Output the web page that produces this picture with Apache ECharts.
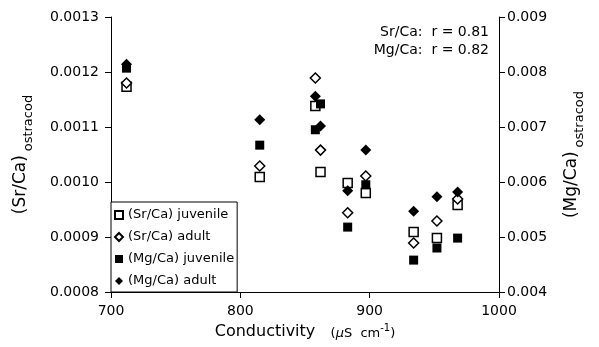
<!DOCTYPE html>
<html lang="en">

<head>
    <meta charset="UTF-8">
    <title>Ostracod Sr/Ca Mg/Ca</title>
    <script src="https://cdn.jsdelivr.net/npm/echarts@6/dist/echarts.min.js"></script>
    <style>
        body { margin: 0; background: #fff; }
        #main { width: 599px; height: 347px; }
    </style>
</head>

<body>
    <div id="main"></div>

    <script>
        // conductivity (uS/cm) for each sample site
        const conductivity = [712, 815, 858, 862, 883, 897, 934, 952, 968];
        const srJuvenile = [0.001173, 0.001009, 0.001138, 0.001018, 0.000998, 0.000980, 0.000909, 0.000898, 0.000958];
        const srAdult = [0.001180, 0.001029, 0.001189, 0.001058, 0.000944, 0.001011, 0.000889, 0.000929, 0.000969];
        const mgJuvenile = [0.00807, 0.00667, 0.00695, 0.00742, 0.00518, 0.00595, 0.00458, 0.00480, 0.00498];
        const mgAdult = [0.00814, 0.00713, 0.00756, 0.00702, 0.00584, 0.00658, 0.00547, 0.00573, 0.00582];

        const xTicks = [700, 800, 900, 1000];
        const corrText = ['Sr/Ca:  r = 0.81', 'Mg/Ca:  r = 0.82'];

        const font = 'DejaVu Sans';
        const chart = echarts.init(document.getElementById('main'));

        function pairs(ys) {
            return conductivity.map((x, i) => [x, ys[i]]);
        }

        const axisCommon = {
            axisLine: { show: true, lineStyle: { color: '#000', width: 1 } },
            axisTick: { show: true, length: 6, lineStyle: { color: '#000' } },
            splitLine: { show: false },
            axisLabel: { color: '#000', fontFamily: font, fontSize: 14 }
        };

        const openStyle = { color: '#fff', borderColor: '#000', borderWidth: 1.5, opacity: 1 };
        const fillStyle = { color: '#000', borderColor: '#000', borderWidth: 0, opacity: 1 };

        const option = {
            animation: false,
            backgroundColor: '#fff',
            textStyle: { fontFamily: font },
            grid: { left: 111, right: 100, top: 17, bottom: 55 },
            // correlation note, one title per line so both lines end at the same x
            title: corrText.map((t, i) => ({
                text: t,
                right: 110,
                top: 25 + i * 18,
                padding: 0,
                textStyle: { fontFamily: font, fontSize: 14, fontWeight: 'normal', color: '#000' }
            })),
            legend: {
                orient: 'vertical',
                left: 111,
                top: 202,
                padding: [6, 3, 4, 3],
                itemGap: 8,
                itemWidth: 8,
                itemHeight: 8,
                backgroundColor: '#fff',
                borderColor: '#000',
                borderWidth: 1,
                borderRadius: 0,
                textStyle: { fontFamily: font, fontSize: 13, color: '#000', lineHeight: 14 },
                data: ['(Sr/Ca) juvenile', '(Sr/Ca) adult', '(Mg/Ca) juvenile', '(Mg/Ca) adult']
            },
            xAxis: Object.assign({}, axisCommon, {
                type: 'value',
                min: xTicks[0],
                max: xTicks[xTicks.length - 1],
                interval: 100,
                axisLabel: Object.assign({}, axisCommon.axisLabel, { margin: 12, formatter: v => String(v) }),
                name: '{a|Conductivity}    {b|(}{m|\u03bc}{b|S  cm}{c|-1}{b|)}',
                nameLocation: 'middle',
                nameGap: 31,
                nameTextStyle: {
                    rich: {
                        a: { fontFamily: font, fontSize: 16, color: '#000', verticalAlign: 'bottom' },
                        b: { fontFamily: font, fontSize: 13, color: '#000', verticalAlign: 'bottom' },
                        m: { fontFamily: font, fontSize: 13, color: '#000', fontStyle: 'italic', verticalAlign: 'bottom' },
                        c: { fontFamily: font, fontSize: 10, color: '#000', verticalAlign: 'bottom', padding: [0, 0, 7, 0] }
                    }
                }
            }),
            yAxis: [
                Object.assign({}, axisCommon, {
                    type: 'value',
                    position: 'left',
                    min: 0.0008,
                    max: 0.0013,
                    interval: 0.0001,
                    axisLabel: Object.assign({}, axisCommon.axisLabel, {
                        margin: 12,
                        formatter: v => v.toFixed(4)
                    }),
                    name: '{a|(Sr/Ca)} {b|ostracod}',
                    nameLocation: 'middle',
                    nameRotate: 90,
                    nameGap: 76,
                    nameTextStyle: {
                        rich: {
                            a: { fontFamily: font, fontSize: 17, color: '#000', verticalAlign: 'bottom', padding: [0, 0, 6, 0] },
                            b: { fontFamily: font, fontSize: 13, color: '#000', verticalAlign: 'bottom' }
                        }
                    }
                }),
                Object.assign({}, axisCommon, {
                    type: 'value',
                    position: 'right',
                    min: 0.004,
                    max: 0.009,
                    interval: 0.001,
                    axisLabel: Object.assign({}, axisCommon.axisLabel, {
                        margin: 8,
                        formatter: v => v.toFixed(3)
                    }),
                    name: '{a|(Mg/Ca)} {b|ostracod}',
                    nameLocation: 'middle',
                    nameRotate: 90,
                    nameGap: 64,
                    nameTextStyle: {
                        rich: {
                            a: { fontFamily: font, fontSize: 17, color: '#000', verticalAlign: 'bottom', padding: [0, 0, 6, 0] },
                            b: { fontFamily: font, fontSize: 13, color: '#000', verticalAlign: 'bottom' }
                        }
                    }
                })
            ],
            series: [
                {
                    name: '(Sr/Ca) juvenile', type: 'scatter', yAxisIndex: 0,
                    symbol: 'rect', symbolSize: 9, itemStyle: openStyle,
                    data: pairs(srJuvenile)
                },
                {
                    name: '(Sr/Ca) adult', type: 'scatter', yAxisIndex: 0,
                    symbol: 'diamond', symbolSize: 10, itemStyle: openStyle,
                    data: pairs(srAdult)
                },
                {
                    name: '(Mg/Ca) juvenile', type: 'scatter', yAxisIndex: 1,
                    symbol: 'rect', symbolSize: 9, itemStyle: fillStyle,
                    data: pairs(mgJuvenile)
                },
                {
                    name: '(Mg/Ca) adult', type: 'scatter', yAxisIndex: 1,
                    symbol: 'diamond', symbolSize: 11, itemStyle: fillStyle,
                    data: pairs(mgAdult)
                }
            ]
        };

        chart.setOption(option);
    </script>
</body>

</html>
